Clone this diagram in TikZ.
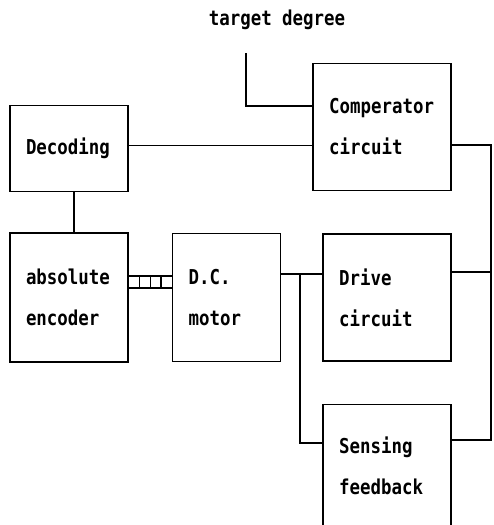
\documentclass[tikz,border=0pt]{standalone}
\usepackage{fontspec}
\newfontfamily\figFuente{DejaVu Sans Mono}[FakeStretch=0.85]
\usetikzlibrary{positioning}
\usetikzlibrary{calc}
\tikzset{
  bloque/.style={
    rectangle, draw=black, line width=1.6pt,
    align=left, inner xsep=16pt, inner ysep=0pt,
    font=\figFuente\bfseries\fontsize{20.5}{41}\selectfont
  },
  rotulo/.style={font=\figFuente\bfseries\fontsize{20.5}{24}\selectfont, inner sep=0pt},
  linea/.style={line width=1.6pt, draw=black}
}

\begin{document}
\begin{tikzpicture}[x=1pt, y=-1pt]
  \useasboundingbox (0,0) rectangle (493,525);
  \node[bloque, text width=86pt, minimum height=129pt] at (69,297.5) (enc) {absolute\\encoder};
  \node[bloque, text width=76pt, minimum height=128pt, right=43pt of enc] (mot) {D.C.\\motor};
  \node[bloque, text width=96pt, minimum height=127pt, right=41pt of mot] (drv) {Drive\\circuit};
  \node[bloque, text width=96pt, minimum height=123pt, below=42pt of drv] (sen) {Sensing\\feedback};
  \node[bloque, text width=106pt, minimum height=127pt, above=42pt of drv, xshift=-5pt] (cmp) {Comperator\\circuit};
  \node[bloque, text width=86pt, minimum height=86pt, above=40pt of enc] (dec) {Decoding};
  \node[rotulo] at (277,20) (tgt) {target degree};

  \coordinate (tin) at (246,53);
  \coordinate (tcodo) at (246,106);
  \draw[linea] (tin) -- (tcodo) -- (tcodo -| cmp.west);
  \draw[linea] ([yshift=3pt]dec.east) -- ([yshift=3pt]dec.east -| cmp.west);
  \draw[linea] ([xshift=5pt]dec.south) -- ([xshift=5pt]enc.north);

  \coordinate (ejeA) at ([yshift=21.5pt]enc.east);
  \coordinate (ejeB) at ([yshift=9.5pt]enc.east);
  \draw[linea] (ejeA) -- (ejeA -| mot.west);
  \draw[linea] (ejeB) -- (ejeB -| mot.west);
  \foreach \i in {1,2,3}
    \draw[linea] ($(ejeA)!\i/4!(ejeA -| mot.west)$) -- ($(ejeB)!\i/4!(ejeB -| mot.west)$);

  \coordinate (mj) at (300,274);
  \coordinate (sj) at (300,443);
  \draw[linea] (mj -| mot.east) -- (mj -| drv.west);
  \draw[linea] (mj) -- (sj) -- (sj -| sen.west);

  \coordinate (rsup) at (491,145);
  \coordinate (rdrv) at (491,272);
  \coordinate (rinf) at (491,440);
  \draw[linea] (rsup -| cmp.east) -- (rsup) -- (rinf) -- (rinf -| sen.east);
  \draw[linea] (rdrv -| drv.east) -- (rdrv);
\end{tikzpicture}
\end{document}
